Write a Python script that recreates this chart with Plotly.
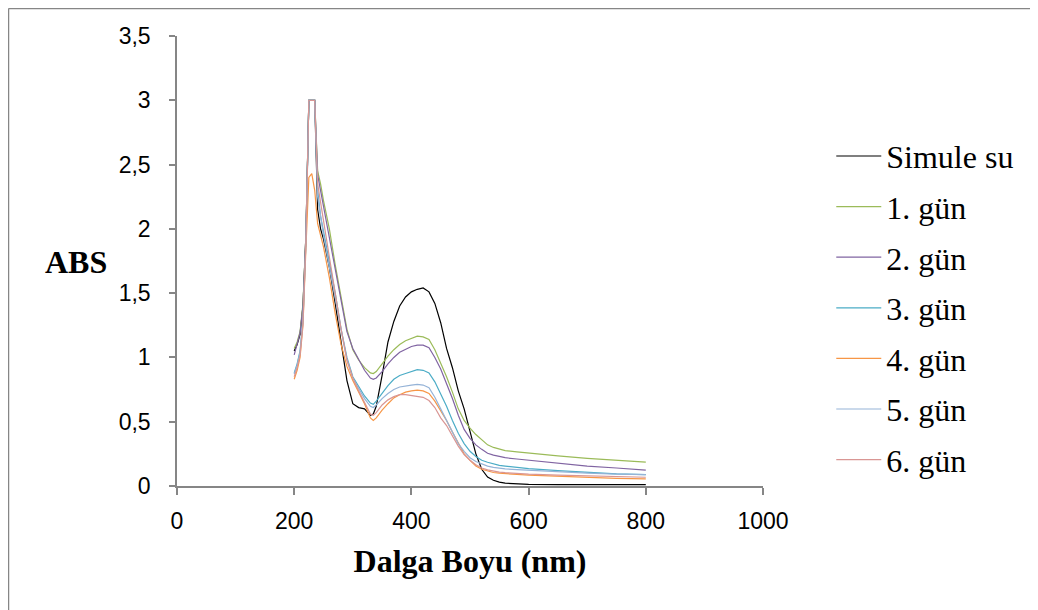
import plotly.graph_objects as go

wavelength = [200, 205, 210, 215, 220, 225, 230, 235, 240, 245, 250, 260, 270, 280, 290, 300, 310, 320, 330, 335,
              340, 350, 360, 370, 380, 390, 400, 410, 420, 430, 440, 450, 460, 470, 480, 490, 500, 510, 520, 530,
              540, 550, 560, 580, 600, 650, 700, 750, 800]

simule_su = [1.05, 1.10, 1.18, 1.40, 1.95, 3.0, 3.0, 3.0, 2.15, 2.00, 1.92, 1.70, 1.42, 1.10, 0.82, 0.64, 0.61, 0.60, 0.55, 0.56,
             0.62, 0.86, 1.12, 1.28, 1.40, 1.47, 1.51, 1.53, 1.54, 1.51, 1.42, 1.27, 1.07, 0.92, 0.74, 0.60, 0.42, 0.25, 0.13, 0.07,
             0.045, 0.03, 0.022, 0.015, 0.012, 0.01, 0.01, 0.01, 0.01]

gun1 = [1.07, 1.12, 1.20, 1.42, 1.95, 3.0, 3.0, 3.0, 2.45, 2.35, 2.22, 2.00, 1.72, 1.46, 1.22, 1.06, 0.98, 0.92, 0.88, 0.875,
        0.89, 0.95, 1.01, 1.06, 1.10, 1.13, 1.15, 1.165, 1.16, 1.14, 1.06, 0.96, 0.85, 0.73, 0.60, 0.51, 0.45, 0.40, 0.36, 0.32,
        0.30, 0.285, 0.275, 0.265, 0.255, 0.235, 0.215, 0.20, 0.185]

gun2 = [1.02, 1.10, 1.19, 1.40, 1.95, 3.0, 3.0, 3.0, 2.42, 2.30, 2.18, 1.93, 1.68, 1.44, 1.20, 1.07, 0.99, 0.90, 0.84, 0.83,
        0.84, 0.89, 0.95, 1.00, 1.04, 1.065, 1.085, 1.095, 1.095, 1.075, 1.00, 0.91, 0.80, 0.68, 0.55, 0.44, 0.37, 0.32, 0.285, 0.255,
        0.24, 0.228, 0.22, 0.21, 0.20, 0.175, 0.155, 0.14, 0.124]

gun3 = [0.88, 0.95, 1.05, 1.30, 1.90, 3.0, 3.0, 3.0, 2.30, 2.10, 1.98, 1.74, 1.50, 1.22, 1.00, 0.85, 0.77, 0.70, 0.645, 0.635,
        0.66, 0.72, 0.78, 0.83, 0.86, 0.875, 0.89, 0.905, 0.90, 0.88, 0.81, 0.72, 0.62, 0.51, 0.41, 0.33, 0.27, 0.23, 0.20, 0.185,
        0.17, 0.16, 0.155, 0.145, 0.135, 0.12, 0.105, 0.095, 0.088]

gun4 = [0.83, 0.90, 1.00, 1.25, 1.85, 2.40, 2.43, 2.30, 2.04, 1.94, 1.86, 1.62, 1.34, 1.10, 0.93, 0.82, 0.73, 0.64, 0.53, 0.51,
        0.53, 0.59, 0.64, 0.685, 0.71, 0.73, 0.74, 0.745, 0.74, 0.72, 0.66, 0.59, 0.51, 0.42, 0.33, 0.25, 0.20, 0.155, 0.13, 0.115,
        0.105, 0.10, 0.095, 0.09, 0.085, 0.075, 0.068, 0.06, 0.055]

gun5 = [0.87, 0.94, 1.04, 1.28, 1.90, 3.0, 3.0, 3.0, 2.25, 2.08, 1.95, 1.70, 1.45, 1.20, 0.98, 0.84, 0.76, 0.68, 0.62, 0.61,
        0.63, 0.68, 0.72, 0.75, 0.77, 0.78, 0.785, 0.79, 0.785, 0.765, 0.69, 0.60, 0.51, 0.42, 0.33, 0.27, 0.22, 0.19, 0.17, 0.155,
        0.145, 0.138, 0.133, 0.127, 0.122, 0.11, 0.10, 0.093, 0.088]

gun6 = [0.85, 0.92, 1.02, 1.27, 1.90, 3.0, 3.0, 3.0, 2.35, 2.20, 2.05, 1.78, 1.50, 1.22, 0.98, 0.84, 0.74, 0.65, 0.56, 0.55,
        0.57, 0.63, 0.67, 0.695, 0.71, 0.71, 0.705, 0.70, 0.69, 0.665, 0.61, 0.53, 0.47, 0.39, 0.31, 0.245, 0.20, 0.165, 0.14, 0.125,
        0.115, 0.108, 0.104, 0.098, 0.093, 0.085, 0.078, 0.072, 0.068]

series_names = ["Simule su", "1. gün", "2. gün", "3. gün", "4. gün", "5. gün", "6. gün"]
series_values = [simule_su, gun1, gun2, gun3, gun4, gun5, gun6]
series_colors = ["#000000", "#9BBB59", "#8064A2", "#4BACC6", "#F79646", "#95B3D7", "#D99694"]

x_ticks = [0, 200, 400, 600, 800, 1000]
y_ticks = [0, 0.5, 1, 1.5, 2, 2.5, 3, 3.5]

fig = go.Figure()
for name, vals, col in zip(series_names, series_values, series_colors):
    fig.add_trace(go.Scatter(x=wavelength, y=vals, mode="lines", name=name,
                             legendgroup=name,
                             line=dict(color=col, width=1.2)))

axis_gray = "#868686"
# page has an 8px body margin; figure coords = page coords - 8
W, H = 1030, 602
L, T, PW, PH = 169, 28, 586, 450
bx0, bx1 = (0.5 - L) / PW, (1200 - L) / PW
by0, by1 = (T + PH - 800) / PH, (T + PH - 0.5) / PH
fig.update_layout(
    width=W, height=H,
    margin=dict(l=L, r=W - L - PW, t=T, b=H - T - PH),
    paper_bgcolor="white", plot_bgcolor="white",
    separators=",.",
    showlegend=True,
    legend=dict(x=1.1165, y=0.794, xanchor="left", yanchor="top",
                font=dict(family="Liberation Serif", size=32, color="black"),
                itemwidth=45,
                tracegroupgap=6, bgcolor="rgba(0,0,0,0)"),
    xaxis=dict(range=[0, 1000], tickvals=x_ticks, showgrid=False, zeroline=False,
               showline=True, linecolor=axis_gray, linewidth=1.5,
               ticks="outside", ticklen=7, tickcolor=axis_gray, tickwidth=1.5,
               ticklabelstandoff=7,
               tickfont=dict(family="Liberation Sans", size=23, color="black"),
               title=dict(text="<b>Dalga Boyu (nm)</b>", standoff=16,
                          font=dict(family="Liberation Serif", size=32, color="black"))),
    yaxis=dict(range=[0, 3.5], tickvals=y_ticks, showgrid=False, zeroline=False,
               showline=True, linecolor=axis_gray, linewidth=1.5,
               ticks="outside", ticklen=6, tickcolor=axis_gray, tickwidth=1.5,
               ticklabelstandoff=14,
               tickfont=dict(family="Liberation Sans", size=23, color="black")),
    annotations=[dict(text="<b>ABS</b>", xref="paper", yref="paper",
                      x=(68 - L) / PW, y=(T + PH - 254) / PH, xanchor="center", yanchor="middle",
                      showarrow=False,
                      font=dict(family="Liberation Serif", size=32, color="black"))],
    shapes=[dict(type="line", xref="paper", yref="paper", x0=bx0, x1=bx0, y0=by0, y1=by1,
                 line=dict(color=axis_gray, width=1.5), layer="below"),
            dict(type="line", xref="paper", yref="paper", x0=bx0, x1=bx1, y0=by1, y1=by1,
                 line=dict(color=axis_gray, width=1.5), layer="below")],
)

fig.write_html("out.html")
